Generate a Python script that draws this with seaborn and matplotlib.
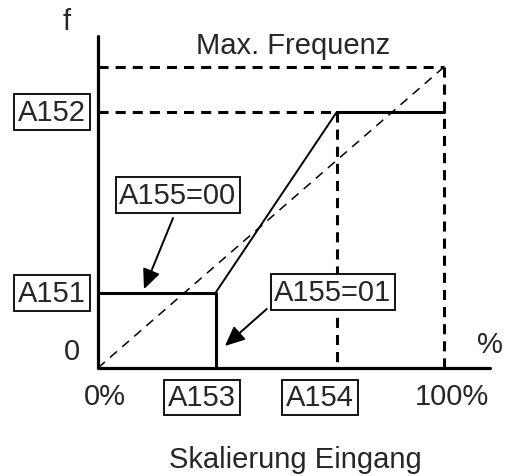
import matplotlib
matplotlib.use("Agg")
import matplotlib.pyplot as plt
import seaborn as sns

# parameter values (x in % of input, y in % of max frequency)
a151 = 25
a152 = 85
a153 = 34
a154 = 69

# solid characteristic pieces
flat_x = [0, a153, a153]
flat_y = [a151, a151, 0]
ramp_x = [a153, a154]
ramp_y = [a151, a152]
top_x = [a154, 100]
top_y = [a152, a152]
diag_x = [0, 100]
diag_y = [0, 100]

sns.set_theme(style="white")
plt.rcParams['font.family'] = ['Liberation Sans', 'DejaVu Sans']

fig = plt.figure(figsize=(5.09, 4.77), dpi=100)
ax = fig.add_axes([0, 0, 1, 1])
ax.set_xlim(-28.3, 118.8)
ax.set_ylim(-35.9, 122.6)
ax.axis("off")

k = "black"
fs = 21
plain = dict(sort=False, estimator=None, errorbar=None, color=k, ax=ax)

# axes (plain lines)
sns.lineplot(x=[0, 0, 113.3], y=[110.3, 0, 0], lw=2.3, **plain)

# thick dashed guides
dash = dict(color=k, lw=2.2, dashes=(3.3, 2.3))
ax.plot([0, 100], [100, 100], **dash)
ax.plot([100, 100], [100, 0], **dash)
ax.plot([0, a154], [a152, a152], **dash)
ax.plot([a154, a154], [a152, 0], **dash)

# thin dashed diagonal
sns.lineplot(x=diag_x, y=diag_y, lw=1.1, **plain)
ax.lines[-1].set_dashes((6, 4.5))

# solid curve: flat at A151, drop at A153, ramp to A152
sns.lineplot(x=flat_x, y=flat_y, lw=2.2, **plain)
sns.lineplot(x=ramp_x, y=ramp_y, lw=1.4, **plain)
sns.lineplot(x=top_x, y=top_y, lw=2.2, **plain)

box = dict(boxstyle="square,pad=0.13", fc="white", ec=k, lw=1.3)

ax.text(-8.96, 112.6, "f", ha="center", va="baseline", fontsize=fs)
ax.text(56.4, 104.7, "Max. Frequenz", ha="center", va="baseline", fontsize=fs)
ax.text(-13.3, a152, "A152", ha="center", va="center", fontsize=fs, bbox=box)
ax.text(-13.3, a151, "A151", ha="center", va="center", fontsize=fs, bbox=box)
ax.text(-7.5, 5.5, "0", ha="center", va="center", fontsize=fs)
ax.text(113.3, 8, "%", ha="center", va="center", fontsize=fs)
ax.text(2, -9.3, "0%", ha="center", va="center", fontsize=fs)
ax.text(102.3, -9.3, "100%", ha="center", va="center", fontsize=fs)
ax.text(30, -9.8, "A153", ha="center", va="center", fontsize=fs, bbox=box)
ax.text(64.2, -9.8, "A154", ha="center", va="center", fontsize=fs, bbox=box)
ax.text(57.2, -30.2, "Skalierung Eingang", ha="center", va="center", fontsize=fs)

arrow = dict(arrowstyle="-|>,head_length=1.0,head_width=0.45", color=k, lw=1.4,
             shrinkA=0, shrinkB=0)
ax.text(23.1, 57.5, "A155=00", ha="center", va="center", fontsize=fs, bbox=box)
ax.annotate("", xy=(13.3, 26.2), xytext=(21.7, 49.8), arrowprops=arrow)
ax.text(67.9, 25.2, "A155=01", ha="center", va="center", fontsize=fs, bbox=box)
ax.annotate("", xy=(36.7, 7.3), xytext=(48.8, 19.6), arrowprops=arrow)

fig.savefig("out.png", dpi=100)
